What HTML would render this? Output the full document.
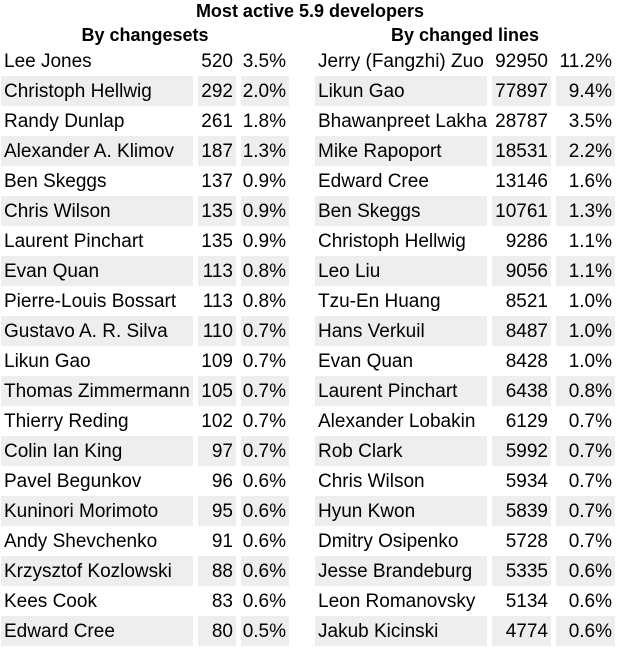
<!DOCTYPE html>
<html><head><meta charset="utf-8"><style>
body{margin:0;width:620px;height:650px;background:#fff;font-family:"Liberation Sans",sans-serif;color:#000;position:relative;overflow:hidden}
.c{position:absolute;height:30px;line-height:31px;font-size:19px;white-space:nowrap;box-sizing:border-box}
.g{background:#eeeeee}
.h{position:absolute;font-weight:bold;font-size:18px;text-align:center}
</style></head><body>
<div class="h" style="left:0;width:620px;top:0;line-height:22px">Most active 5.9 developers</div>
<div class="h" style="left:0;width:290px;top:24px;line-height:22px">By changesets</div>
<div class="h" style="left:315px;width:300px;top:24px;line-height:22px">By changed lines</div>
<script>
const csNames=["Lee Jones","Christoph Hellwig","Randy Dunlap","Alexander A. Klimov","Ben Skeggs","Chris Wilson","Laurent Pinchart","Evan Quan","Pierre-Louis Bossart","Gustavo A. R. Silva","Likun Gao","Thomas Zimmermann","Thierry Reding","Colin Ian King","Pavel Begunkov","Kuninori Morimoto","Andy Shevchenko","Krzysztof Kozlowski","Kees Cook","Edward Cree"];
const csCounts=[520,292,261,187,137,135,135,113,113,110,109,105,102,97,96,95,91,88,83,80];
const csPcts=["3.5%","2.0%","1.8%","1.3%","0.9%","0.9%","0.9%","0.8%","0.8%","0.7%","0.7%","0.7%","0.7%","0.7%","0.6%","0.6%","0.6%","0.6%","0.6%","0.5%"];
const lnNames=["Jerry (Fangzhi) Zuo","Likun Gao","Bhawanpreet Lakha","Mike Rapoport","Edward Cree","Ben Skeggs","Christoph Hellwig","Leo Liu","Tzu-En Huang","Hans Verkuil","Evan Quan","Laurent Pinchart","Alexander Lobakin","Rob Clark","Chris Wilson","Hyun Kwon","Dmitry Osipenko","Jesse Brandeburg","Leon Romanovsky","Jakub Kicinski"];
const lnCounts=[92950,77897,28787,18531,13146,10761,9286,9056,8521,8487,8428,6438,6129,5992,5934,5839,5728,5335,5134,4774];
const lnPcts=["11.2%","9.4%","3.5%","2.2%","1.6%","1.3%","1.1%","1.1%","1.0%","1.0%","1.0%","0.8%","0.7%","0.7%","0.7%","0.7%","0.7%","0.6%","0.6%","0.6%"];
const rowY=i=>46+i*30;
function cell(x,w,y,txt,align,gray,name){
  const d=document.createElement('div');
  d.className='c'+(gray?' g':'');
  
  
  d.style.left=x+'px';d.style.width=w+'px';d.style.top=y+'px';
  d.style.textAlign=align;
  d.style.padding=align==='left'?'0 0 0 3px':'0 3px 0 0';
  d.textContent=txt;document.body.appendChild(d);
}
csNames.forEach((n,i)=>{const y=rowY(i),g=i%2===1;
  cell(1,192,y,n,'left',g,'changesets-name');
  cell(198,38,y,String(csCounts[i]),'right',g,'changesets-count');
  cell(241,48,y,csPcts[i],'right',g,'changesets-percent');});
lnNames.forEach((n,i)=>{const y=rowY(i),g=i%2===1;
  cell(315,172,y,n,'left',g,'lines-name');
  cell(492,59,y,String(lnCounts[i]),'right',g,'lines-count');
  cell(556,59,y,lnPcts[i],'right',g,'lines-percent');});
</script>
</body></html>
